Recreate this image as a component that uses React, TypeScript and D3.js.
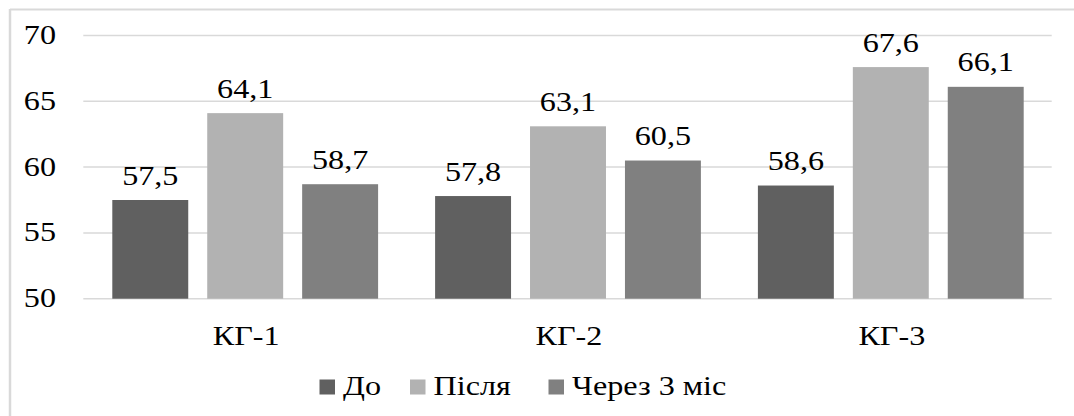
import React from "react";
import * as d3 from "d3";

const categories = ["КГ-1", "КГ-2", "КГ-3"];
const seriesNames = ["До", "Після", "Через 3 міс"];
const seriesDo = [57.5, 57.8, 58.6];
const seriesPislia = [64.1, 63.1, 67.6];
const seriesCherez = [58.7, 60.5, 66.1];
const yTicks = [50, 55, 60, 65, 70];
const seriesColors = ["#606060", "#b2b2b2", "#808080"];

const W = 1074;
const H = 416;
const FONT = "'Liberation Serif', Tinos, 'Times New Roman', serif";
const FS = 27.5;
const SX = 1.17; // horizontal widening of the lettering

function Label({
  x,
  y,
  anchor = "start",
  children,
}: {
  x: number;
  y: number;
  anchor?: "start" | "middle" | "end";
  children: React.ReactNode;
}) {
  return (
    <text transform={`translate(${x},${y}) scale(${SX},1)`} textAnchor={anchor}>
      {children}
    </text>
  );
}

export default function App() {
  const series = [seriesDo, seriesPislia, seriesCherez];
  const x0 = d3.scaleBand<string>().domain(categories).range([83.3, 1051.7]).paddingInner(0).paddingOuter(0);
  const x1 = d3
    .scaleBand<number>()
    .domain([0, 1, 2])
    .range([29, x0.bandwidth() - 28])
    .paddingInner(0.2);
  const y = d3.scaleLinear().domain([50, 70]).range([298.7, 35.5]);
  const fmt = (v: number) => v.toFixed(1).replace(".", ",");

  const legendX = [319.5, 410, 548.5];

  return (
    <svg
      width={W}
      height={H}
      style={{ position: "absolute", left: 0, top: 0, background: "#fff", fontFamily: FONT }}
    >
      {/* outer frame */}
      <line x1={10} y1={9.5} x2={W} y2={9.5} stroke="#d9d9d9" strokeWidth={2} />
      <line x1={10} y1={9} x2={10} y2={H} stroke="#d9d9d9" strokeWidth={2.5} />
      {/* gridlines */}
      {yTicks.map((t) => (
        <line key={t} x1={83.3} x2={1051.7} y1={y(t)} y2={y(t)} stroke="#d9d9d9" strokeWidth={1.5} />
      ))}
      <g fontSize={FS} fill="#000">
        {/* y tick labels */}
        {yTicks.map((t) => (
          <Label key={"l" + t} x={56} y={y(t) + 8.5} anchor="end">
            {t}
          </Label>
        ))}
        {/* bars and value labels */}
        {categories.map((c, ci) => (
          <g key={c} transform={`translate(${x0(c)},0)`}>
            {series.map((s, si) => {
              const bx = x1(si)!;
              const bw = x1.bandwidth();
              return (
                <g key={si}>
                  <rect
                    x={bx}
                    y={y(s[ci])}
                    width={bw}
                    height={y(50) - y(s[ci])}
                    fill={seriesColors[si]}
                  />
                  <Label x={bx + bw / 2} y={y(s[ci]) - 15.5} anchor="middle">
                    {fmt(s[ci])}
                  </Label>
                </g>
              );
            })}
            <Label x={x0.bandwidth() / 2 + 1.5} y={345} anchor="middle">
              {c}
            </Label>
          </g>
        ))}
        {/* legend */}
        {seriesNames.map((n, i) => (
          <g key={n}>
            <rect x={legendX[i]} y={379.5} width={15.5} height={15} fill={seriesColors[i]} />
            <Label x={legendX[i] + 23.5} y={395}>
              {n}
            </Label>
          </g>
        ))}
      </g>
    </svg>
  );
}
